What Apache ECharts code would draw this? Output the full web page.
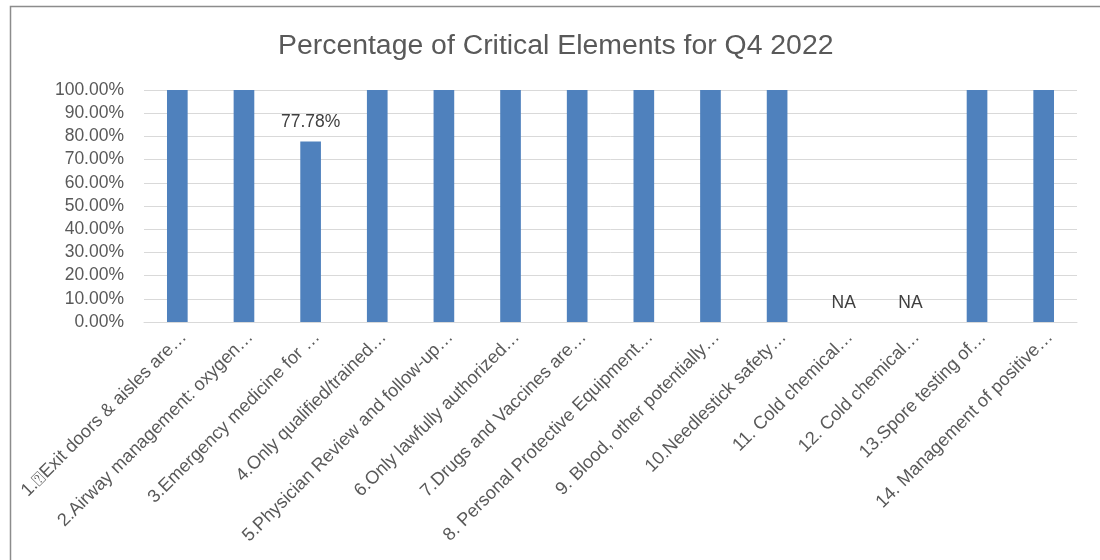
<!DOCTYPE html>
<html><head><meta charset="utf-8">
<script src="https://cdn.jsdelivr.net/npm/echarts@6/dist/echarts.min.js"></script>
<style>html,body{margin:0;padding:0;background:#fff}#c{width:1100px;height:560px}</style>
</head><body><div id="c"></div>
<script>
const titleText = 'Percentage of Critical Elements for Q4 2022';
const categories = [
  '1.\u2370Exit doors & aisles are\u2026',
  '2.Airway management: oxygen\u2026',
  '3.Emergency medicine for \u2026',
  '4.Only qualified/trained\u2026',
  '5.Physician Review and follow-up\u2026',
  '6.Only lawfully authorized\u2026',
  '7.Drugs and Vaccines are\u2026',
  '8. Personal Protective Equipment\u2026',
  '9. Blood, other potentially\u2026',
  '10.Needlestick safety\u2026',
  '11. Cold chemical\u2026',
  '12. Cold chemical\u2026',
  '13.Spore testing of\u2026',
  '14. Management of positive\u2026'
];
// null = not applicable (shown as "NA")
const values = [1, 1, 0.7778, 1, 1, 1, 1, 1, 1, 1, null, null, 1, 1];
const dataLabels = ['', '', '77.78%', '', '', '', '', '', '', '', 'NA', 'NA', '', ''];
const yTicks = [0, 0.1, 0.2, 0.3, 0.4, 0.5, 0.6, 0.7, 0.8, 0.9, 1.0];

const FONT = 'Liberation Sans';
const seriesData = values.map((v, i) => {
  const item = { value: v === null ? 0 : v };
  if (dataLabels[i]) {
    item.label = { show: true, formatter: dataLabels[i] };
  }
  return item;
});

const chart = echarts.init(document.getElementById('c'), null, { renderer: 'canvas' });
chart.setOption({
  animation: false,
  backgroundColor: '#ffffff',
  textStyle: { fontFamily: FONT },
  graphic: [{
    type: 'rect', z: -1, silent: true,
    shape: { x: 10.5, y: 6.5, width: 1200, height: 700 },
    style: { fill: 'none', stroke: '#8c8c8c', lineWidth: 1.5 }
  }],
  title: {
    text: titleText, left: 278, top: 32, padding: 0,
    textStyle: { fontFamily: FONT, fontSize: 28.4, fontWeight: 'normal', color: '#595959' }
  },
  grid: { left: 144, right: 23, top: 90, bottom: 238, containLabel: false },
  xAxis: {
    type: 'category', data: categories,
    axisLine: { lineStyle: { color: '#d9d9d9', width: 1 } },
    axisTick: { show: false },
    axisLabel: {
      rotate: 45, interval: 0, color: '#595959', fontSize: 18.2, fontFamily: FONT,
      margin: 6, verticalAlign: 'top'
    }
  },
  yAxis: {
    type: 'value', min: 0, max: 1, interval: 0.1,
    axisLine: { show: false }, axisTick: { show: false },
    splitLine: { lineStyle: { color: '#d9d9d9', width: 1 } },
    axisLabel: {
      color: '#595959', fontSize: 17.5, fontFamily: FONT, margin: 20,
      formatter: v => (v * 100).toFixed(2) + '%'
    }
  },
  series: [{
    type: 'bar', data: seriesData, barWidth: '31%',
    itemStyle: { color: '#4f81bd' },
    label: { show: false, position: 'top', distance: 10, color: '#404040', fontSize: 17.5, fontFamily: FONT }
  }]
});
</script></body></html>
